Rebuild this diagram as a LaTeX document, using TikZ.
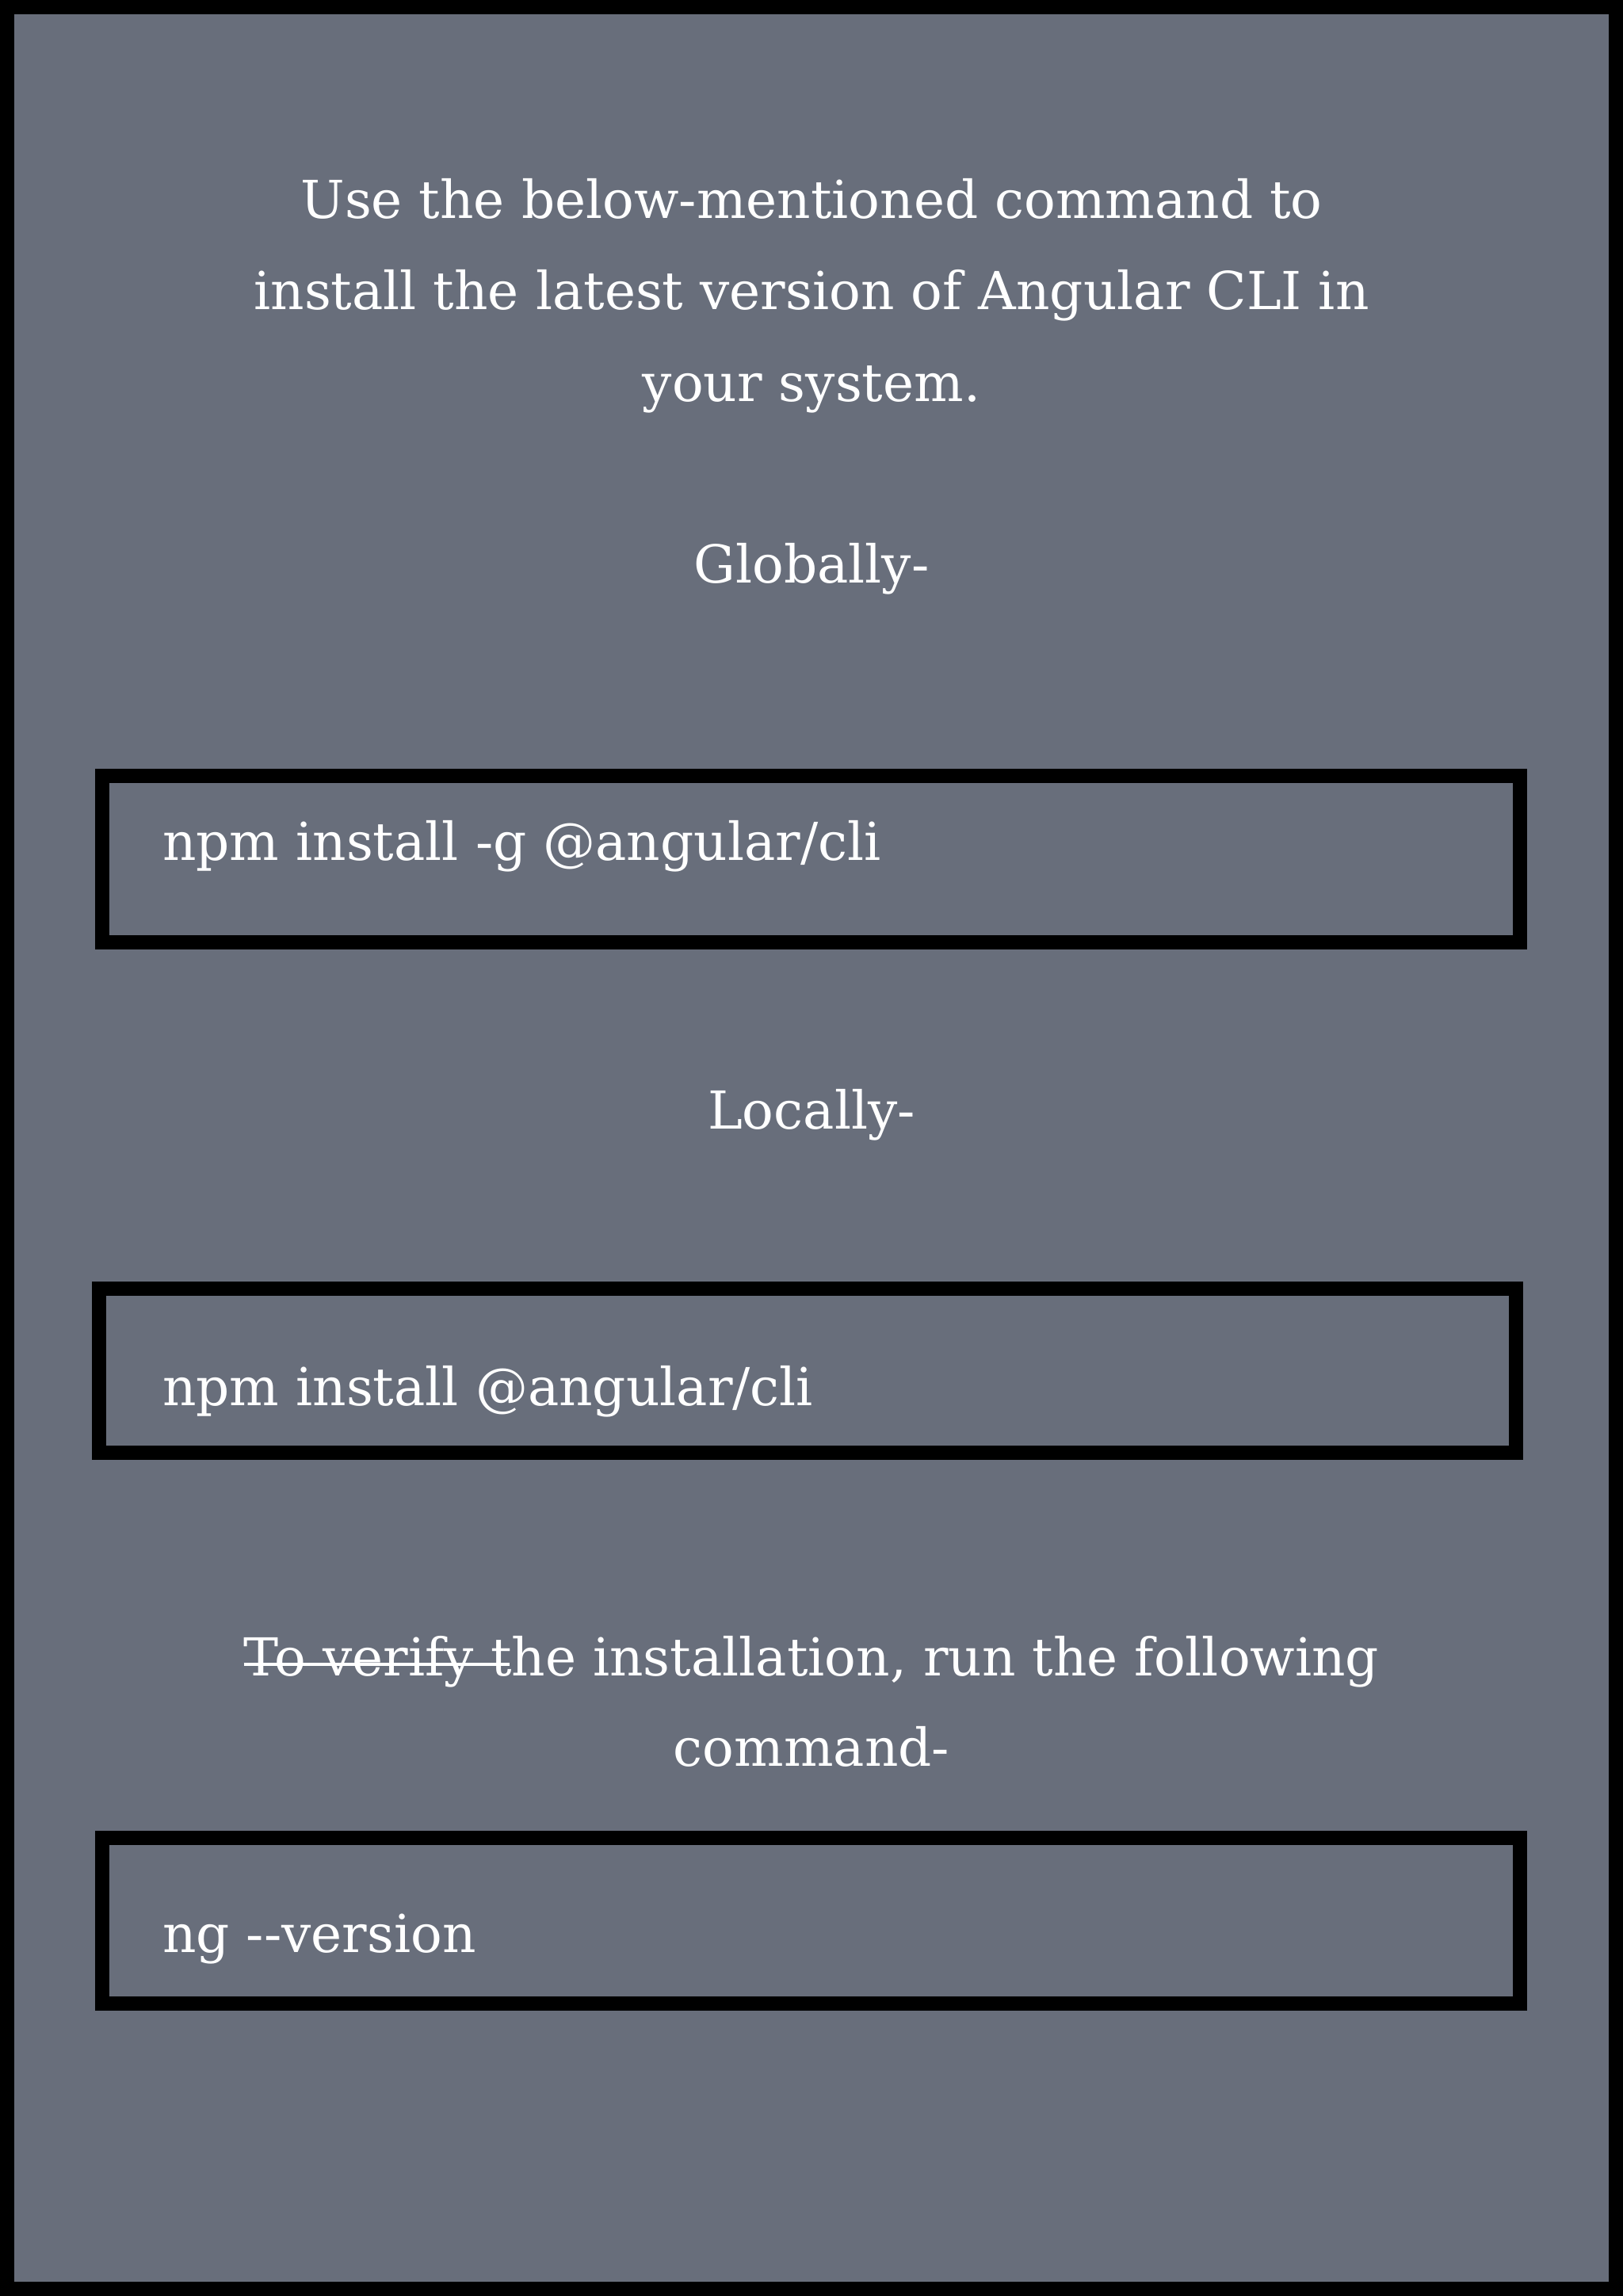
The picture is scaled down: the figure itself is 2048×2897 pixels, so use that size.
\documentclass[tikz,border=0pt]{standalone}
\usepackage{fontspec}
\setmainfont{DejaVu Serif}
\definecolor{bg}{HTML}{686E7B}
\begin{document}
\begin{tikzpicture}[x=1pt,y=-1pt,
  txt/.style={text=white,font=\fontsize{66}{110}\selectfont,inner sep=0pt,anchor=base},
  cmdbox/.style={draw=black,line width=18pt}]
\useasboundingbox (0,0) rectangle (2048,2897);
\fill[black] (0,0) rectangle (2048,2897);
\fill[bg] (18,18) rectangle (2030,2879);
\node[txt] (l1) at (1024,275) {Use the below-mentioned command to};
\node[txt] (l2) at (1024,390) {install the latest version of Angular CLI in};
\node[txt] (l3) at (1024,506) {your system.};
\node[txt] (g) at (1024,735) {Globally-};
\draw[cmdbox] (129,979) rectangle (1918,1189);
\node[txt,anchor=base west] (c1) at (205,1085) {npm install -g @angular/cli};
\node[txt] (loc) at (1024,1424) {Locally-};
\draw[cmdbox] (125,1626) rectangle (1913,1833);
\node[txt,anchor=base west] (c2) at (205,1773) {npm install @angular/cli};
\node[txt] (v1) at (1024,2114) {To verify the installation, run the following};
\draw[white,line width=4pt] ([yshift=14pt]v1.base west) -- ++(335,0);
\node[txt] (v2) at (1024,2228) {command-};
\draw[cmdbox] (129,2319) rectangle (1918,2528);
\node[txt,anchor=base west] (c3) at (205,2463) {ng {-}{-}version};
\end{tikzpicture}
\end{document}
